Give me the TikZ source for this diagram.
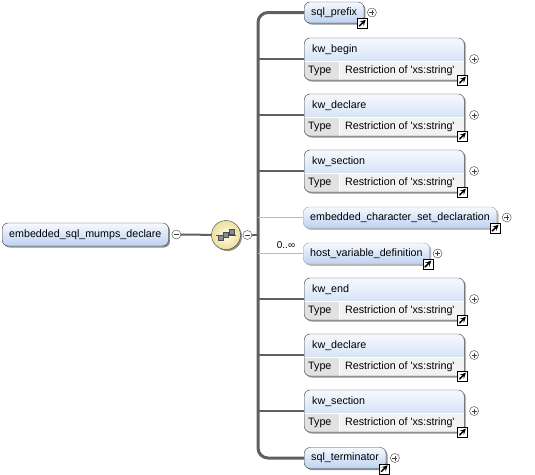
\documentclass[tikz,border=0pt]{standalone}
\usepackage{fontspec}
\setmainfont{Liberation Sans}
\usepackage{xcolor}
\usepackage{tikz}
\usetikzlibrary{positioning}
\usetikzlibrary{shadows}
\usetikzlibrary{calc}

\definecolor{boxline}{HTML}{404040}
\definecolor{optline}{HTML}{A8A8A8}
\definecolor{connline}{HTML}{606060}
\definecolor{thinline}{HTML}{B8B8B8}
\definecolor{headtop}{HTML}{F6F9FE}
\definecolor{headbot}{HTML}{BDD2F1}
\definecolor{rowgrey}{HTML}{F2F2F2}
\definecolor{typegrey}{HTML}{E2E2E2}
\definecolor{seqin}{HTML}{FFFDE8}
\definecolor{seqout}{HTML}{EDDF9C}

\begin{document}
\begin{tikzpicture}
  [ x=1pt, y=-1pt,
    every node/.style={font=\fontsize{10.7}{12}\selectfont},
    boxshadow/.style={drop shadow={shadow xshift=1.5pt,
      shadow yshift=-1.5pt, fill=black!55, opacity=0.8}},
    elem/.style={draw=boxline, top color=headtop, bottom color=headbot,
      rounded corners=6pt, minimum height=21pt, inner xsep=7pt,
      anchor=west, boxshadow},
    opt/.style={elem, draw=optline, drop shadow={shadow xshift=1.5pt,
      shadow yshift=-1.5pt, fill=black!25, opacity=0.8}},
    typed/.style={draw=boxline, fill=rowgrey, rounded corners=6pt,
      minimum width=160pt, minimum height=42pt, inner sep=0pt,
      anchor=west, boxshadow, path picture={
        \shade[sharp corners, top color=headtop, bottom color=headbot]
          (path picture bounding box.north west) rectangle
          ([yshift=-23pt]path picture bounding box.north east);
        \fill[sharp corners, typegrey]
          ([yshift=-23pt]path picture bounding box.north west) rectangle
          ([xshift=35pt]path picture bounding box.south west);
        \draw[sharp corners, white, line width=0.8pt]
          ([yshift=-23pt]path picture bounding box.north west) --
          ([yshift=-23pt]path picture bounding box.north east);
        \draw[sharp corners, white, line width=0.8pt]
          ([shift={(35pt,-23pt)}]path picture bounding box.north west) --
          ([xshift=35pt]path picture bounding box.south west);}},
    lbl/.style={inner sep=0pt, text height=7.5pt, text depth=2pt,
      anchor=west},
    pm/.style={circle, draw=boxline, fill=white, minimum size=9pt,
      inner sep=0pt},
    minus/.style={pm, path picture={
        \draw[boxline] ([xshift=-2.5pt]path picture bounding box.center)
          -- ([xshift=2.5pt]path picture bounding box.center);}},
    plus/.style={pm, path picture={
        \draw[boxline] ([xshift=-2.5pt]path picture bounding box.center)
          -- ([xshift=2.5pt]path picture bounding box.center);
        \draw[boxline] ([yshift=-2.5pt]path picture bounding box.center)
          -- ([yshift=2.5pt]path picture bounding box.center);}},
    link/.style={draw=black, fill=white, minimum size=10pt, inner sep=0pt,
      path picture={
        \draw[line width=1.5pt, -stealth]
          ([shift={(2pt,2pt)}]path picture bounding box.south west) --
          ([shift={(-1.5pt,-1.5pt)}]path picture bounding box.north east);}},
    seqbox/.style={circle, draw=boxline, inner color=seqin,
      outer color=seqout, minimum size=29pt, inner sep=0pt, boxshadow,
      path picture={
        \draw[black!70] ([xshift=-10pt]path picture bounding box.center)
          -- ([xshift=10pt]path picture bounding box.center);
        \filldraw[fill=black!45, draw=black!70]
          ([shift={(-8pt,-5.5pt)}]path picture bounding box.center)
          rectangle ++(5pt,5pt);
        \filldraw[fill=black!45, draw=black!70]
          ([shift={(-2.5pt,-2.5pt)}]path picture bounding box.center)
          rectangle ++(5pt,5pt);
        \filldraw[fill=black!45, draw=black!70]
          ([shift={(3pt,0.5pt)}]path picture bounding box.center)
          rectangle ++(5pt,5pt);}},
    conn/.style={draw=connline, line width=2.2pt},
    optconn/.style={draw=thinline, line width=0.8pt},
    bar/.style={draw=connline, line width=3pt, rounded corners=10pt}
  ]
  \useasboundingbox (0,0) rectangle (535,474);

  % root and sequence
  \node (root) at (2,234.5) [elem, minimum height=23pt]
    {embedded\_sql\_mumps\_declare};
  \node (rootm) [minus, right=3pt of root] {};
  \node (seq)  at (226,235) [seqbox] {};
  \node (seqm) [minus, right=2pt of seq] {};
  \coordinate (bar) at (258,235);

  % children
  \node (c1)  at (304,12.5) [elem]  {sql\_prefix};
  \node (c2)  at (304,59)   [typed] {};
  \node (c3)  at (304,115)  [typed] {};
  \node (c4)  at (304,171)  [typed] {};
  \node (c5)  at (303,217.5) [opt]  {embedded\_character\_set\_declaration};
  \node (c6)  at (303,253.5) [opt]  {host\_variable\_definition};
  \node (c7)  at (304,299)  [typed] {};
  \node (c8)  at (304,355)  [typed] {};
  \node (c9)  at (304,411)  [typed] {};
  \node (c10) at (304,458)  [elem]  {sql\_terminator};

  % names and types
  \node (n2) at ([shift={(8pt,-11.5pt)}]c2.north west) [lbl] {kw\_begin};
  \node (n3) at ([shift={(8pt,-11.5pt)}]c3.north west) [lbl] {kw\_declare};
  \node (n4) at ([shift={(8pt,-11.5pt)}]c4.north west) [lbl] {kw\_section};
  \node (n7) at ([shift={(8pt,-11.5pt)}]c7.north west) [lbl] {kw\_end};
  \node (n8) at ([shift={(8pt,-11.5pt)}]c8.north west) [lbl] {kw\_declare};
  \node (n9) at ([shift={(8pt,-11.5pt)}]c9.north west) [lbl] {kw\_section};

  \node (y2) at ([shift={(4pt,-32.5pt)}]c2.north west) [lbl] {Type};
  \node (y3) at ([shift={(4pt,-32.5pt)}]c3.north west) [lbl] {Type};
  \node (y4) at ([shift={(4pt,-32.5pt)}]c4.north west) [lbl] {Type};
  \node (y7) at ([shift={(4pt,-32.5pt)}]c7.north west) [lbl] {Type};
  \node (y8) at ([shift={(4pt,-32.5pt)}]c8.north west) [lbl] {Type};
  \node (y9) at ([shift={(4pt,-32.5pt)}]c9.north west) [lbl] {Type};

  \node (r2) at ([shift={(41pt,-32.5pt)}]c2.north west) [lbl]
    {Restriction of \textquotesingle xs:string\textquotesingle};
  \node (r3) at ([shift={(41pt,-32.5pt)}]c3.north west) [lbl]
    {Restriction of \textquotesingle xs:string\textquotesingle};
  \node (r4) at ([shift={(41pt,-32.5pt)}]c4.north west) [lbl]
    {Restriction of \textquotesingle xs:string\textquotesingle};
  \node (r7) at ([shift={(41pt,-32.5pt)}]c7.north west) [lbl]
    {Restriction of \textquotesingle xs:string\textquotesingle};
  \node (r8) at ([shift={(41pt,-32.5pt)}]c8.north west) [lbl]
    {Restriction of \textquotesingle xs:string\textquotesingle};
  \node (r9) at ([shift={(41pt,-32.5pt)}]c9.north west) [lbl]
    {Restriction of \textquotesingle xs:string\textquotesingle};

  \node (occ) at (286,245) [font=\fontsize{10}{11}\selectfont] {0..∞};

  % plus signs
  \node (p1)  [plus, right=3pt of c1]  {};
  \node (p2)  [plus, right=5pt of c2]  {};
  \node (p3)  [plus, right=5pt of c3]  {};
  \node (p4)  [plus, right=5pt of c4]  {};
  \node (p5)  [plus, right=5pt of c5]  {};
  \node (p6)  [plus, right=3pt of c6]  {};
  \node (p7)  [plus, right=5pt of c7]  {};
  \node (p8)  [plus, right=5pt of c8]  {};
  \node (p9)  [plus, right=5pt of c9]  {};
  \node (p10) [plus, right=4pt of c10] {};

  % links
  \node (l1)  at ([xshift=-2pt]c1.south east)  [link] {};
  \node (l2)  at ([xshift=-2pt]c2.south east)  [link] {};
  \node (l3)  at ([xshift=-2pt]c3.south east)  [link] {};
  \node (l4)  at ([xshift=-2pt]c4.south east)  [link] {};
  \node (l5)  at ([xshift=-2pt]c5.south east)  [link] {};
  \node (l6)  at ([xshift=-2pt]c6.south east)  [link] {};
  \node (l7)  at ([xshift=-2pt]c7.south east)  [link] {};
  \node (l8)  at ([xshift=-2pt]c8.south east)  [link] {};
  \node (l9)  at ([xshift=-2pt]c9.south east)  [link] {};
  \node (l10) at ([xshift=-2pt]c10.south east) [link] {};

  % connectors
  \draw [conn, line width=2pt] (rootm) -- (seq);
  \draw [conn, line width=1.5pt] (seqm) -- (bar);
  \draw [bar] (c1.west) -| (bar) |- (c10.west);
  \draw [conn] (bar |- c2.west) -- (c2.west);
  \draw [conn] (bar |- c3.west) -- (c3.west);
  \draw [conn] (bar |- c4.west) -- (c4.west);
  \draw [optconn] (bar |- c5.west) -- (c5.west);
  \draw [optconn] (bar |- c6.west) -- (c6.west);
  \draw [conn] (bar |- c7.west) -- (c7.west);
  \draw [conn] (bar |- c8.west) -- (c8.west);
  \draw [conn] (bar |- c9.west) -- (c9.west);
\end{tikzpicture}
\end{document}
